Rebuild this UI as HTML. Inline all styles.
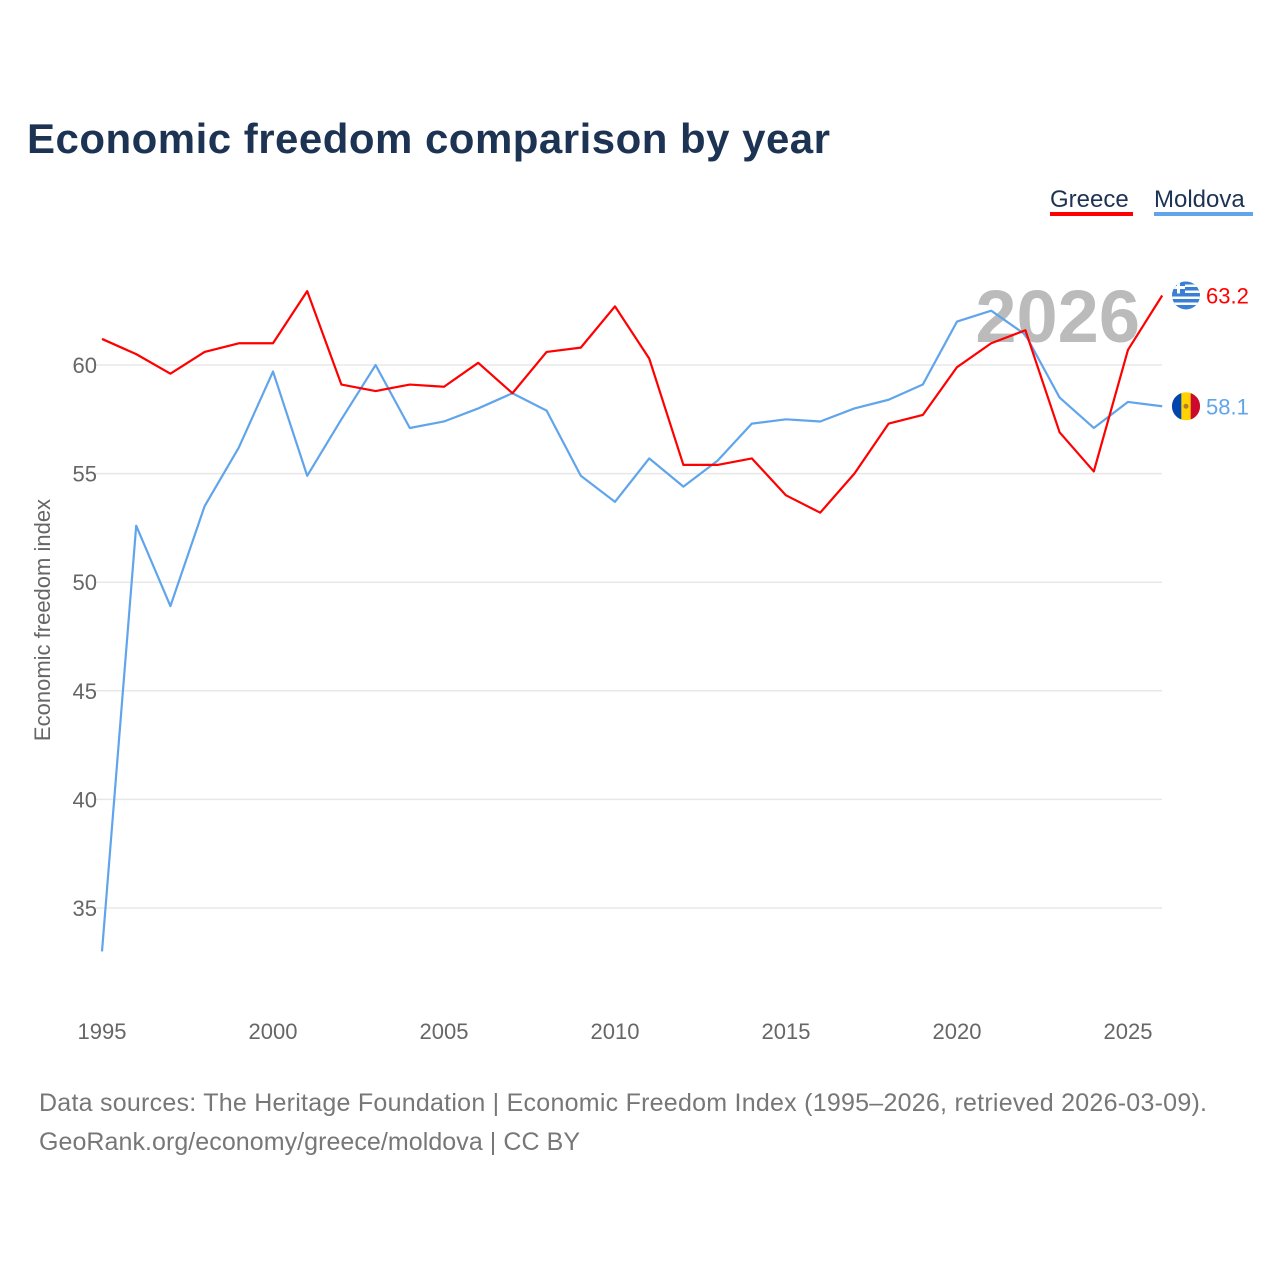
<!DOCTYPE html>
<html><head><meta charset="utf-8"><style>
body{margin:0;background:#fff;font-family:"Liberation Sans",sans-serif}
</style></head><body>
<svg id="chart" width="1280" height="1280" xmlns="http://www.w3.org/2000/svg" font-family="Liberation Sans, sans-serif">
<defs><clipPath id="grclip"><circle cx="1186" cy="293" r="14"/></clipPath></defs>
<rect width="1280" height="1280" fill="#fff"/>
<text x="27" y="153" font-size="42" font-weight="bold" fill="#1d3354" textLength="803">Economic freedom comparison by year</text>
<g><text x="1050" y="207" font-size="24" fill="#1d3354">Greece</text><rect x="1050" y="212" width="83" height="4" fill="#ff0000"/></g>
<g><text x="1154" y="207" font-size="24" fill="#1d3354">Moldova</text><rect x="1154" y="212" width="99" height="4" fill="#60a5ec"/></g>
<g id="grid"></g>
<g id="yticks"></g>
<g id="xticks"></g>
<text x="1140" y="342" text-anchor="end" font-size="74" font-weight="bold" fill="#bbb">2026</text>
<text transform="translate(50,620) rotate(-90)" text-anchor="middle" font-size="22" fill="#666">Economic freedom index</text>
<g id="series"></g>
<text x="39" y="1111" font-size="25" fill="#777" textLength="1168">Data sources: The Heritage Foundation | Economic Freedom Index (1995–2026, retrieved 2026-03-09).</text>
<text x="39" y="1150" font-size="25" fill="#777" textLength="541">GeoRank.org/economy/greece/moldova | CC BY</text>
</svg>
<script>
const years=[1995,1996,1997,1998,1999,2000,2001,2002,2003,2004,2005,2006,2007,2008,2009,2010,2011,2012,2013,2014,2015,2016,2017,2018,2019,2020,2021,2022,2023,2024,2025,2026];
const greece=[61.2,60.5,59.6,60.6,61.0,61.0,63.4,59.1,58.8,59.1,59.0,60.1,58.7,60.6,60.8,62.7,60.3,55.4,55.4,55.7,54.0,53.2,55.0,57.3,57.7,59.9,61.0,61.6,56.9,55.1,60.7,63.2];
const moldova=[33.0,52.6,48.9,53.5,56.2,59.7,54.9,57.5,60.0,57.1,57.4,58.0,58.7,57.9,54.9,53.7,55.7,54.4,55.6,57.3,57.5,57.4,58.0,58.4,59.1,62.0,62.5,61.4,58.5,57.1,58.3,58.1];
const yTicks=[35,40,45,50,55,60];
const xTicks=[1995,2000,2005,2010,2015,2020,2025];
const NS="http://www.w3.org/2000/svg";
const xs=y=>102+(y-1995)*(1026/30);
const ys=v=>365-(v-60)*(543/25);
function mk(t,a,p){const e=document.createElementNS(NS,t);for(const k in a)e.setAttribute(k,a[k]);p.appendChild(e);return e;}
const grid=document.getElementById('grid'),yt=document.getElementById('yticks'),xt=document.getElementById('xticks'),ser=document.getElementById('series');
yTicks.forEach(v=>{
 const l=mk('line',{x1:95,x2:1162,y1:ys(v),y2:ys(v),stroke:'#e8e8e8','stroke-width':1.5},grid);
 
 
 const t=mk('text',{x:97,y:ys(v)+8,'text-anchor':'end','font-size':22,fill:'#666'},yt);t.textContent=v;
 
 
});
xTicks.forEach(v=>{
 const t=mk('text',{x:xs(v),y:1039,'text-anchor':'middle','font-size':22,fill:'#666'},xt);t.textContent=v;
 
 
});
function line(vals,color,name){
 const p=mk('polyline',{points:vals.map((v,i)=>xs(years[i])+','+ys(v)).join(' '),fill:'none',stroke:color,'stroke-width':2.2,'stroke-linejoin':'round'},ser);
 
 
}
line(moldova,'#60a5ec','moldova-line');
line(greece,'#ff0000','greece-line');
function endLabel(vals,color,name,flag){
 const v=vals[vals.length-1],y=ys(v),x=1186;
 const g=mk('g',{},ser);
 
 
 if(flag==='gr'){
  document.querySelector('#grclip circle').setAttribute('cy',y);
  const f=mk('g',{'clip-path':'url(#grclip)'},g);
  mk('rect',{x:x-14,y:y-14,width:28,height:28,fill:'#3a7fd6'},f);
  for(let i=0;i<4;i++)mk('rect',{x:x-14,y:y-11+i*6,width:28,height:2.5,fill:'#fff'},f);
  mk('rect',{x:x-14,y:y-14,width:13,height:12,fill:'#3a7fd6'},f);
  mk('rect',{x:x-9,y:y-14,width:3,height:12,fill:'#fff'},f);
  mk('rect',{x:x-14,y:y-9.5,width:13,height:3,fill:'#fff'},f);
 }else{
  mk('circle',{cx:x,cy:y,r:14,fill:'#ffd200'},g);
  mk('path',{d:`M${x-4.7},${y-13.2} A14,14 0 0 0 ${x-4.7},${y+13.2} Z`,fill:'#0046ae'},g);
  mk('path',{d:`M${x+4.7},${y-13.2} A14,14 0 0 1 ${x+4.7},${y+13.2} Z`,fill:'#cc092f'},g);
  mk('circle',{cx:x,cy:y,r:2.5,fill:'#b07e2a'},g);
 }
 const t=mk('text',{x:1206,y:y+8,'font-size':22,fill:color},g);t.textContent=v.toFixed(1);
}
endLabel(greece,'#ff0000','greece-end-label','gr');
endLabel(moldova,'#60a5ec','moldova-end-label','md');
</script>
</body></html>
